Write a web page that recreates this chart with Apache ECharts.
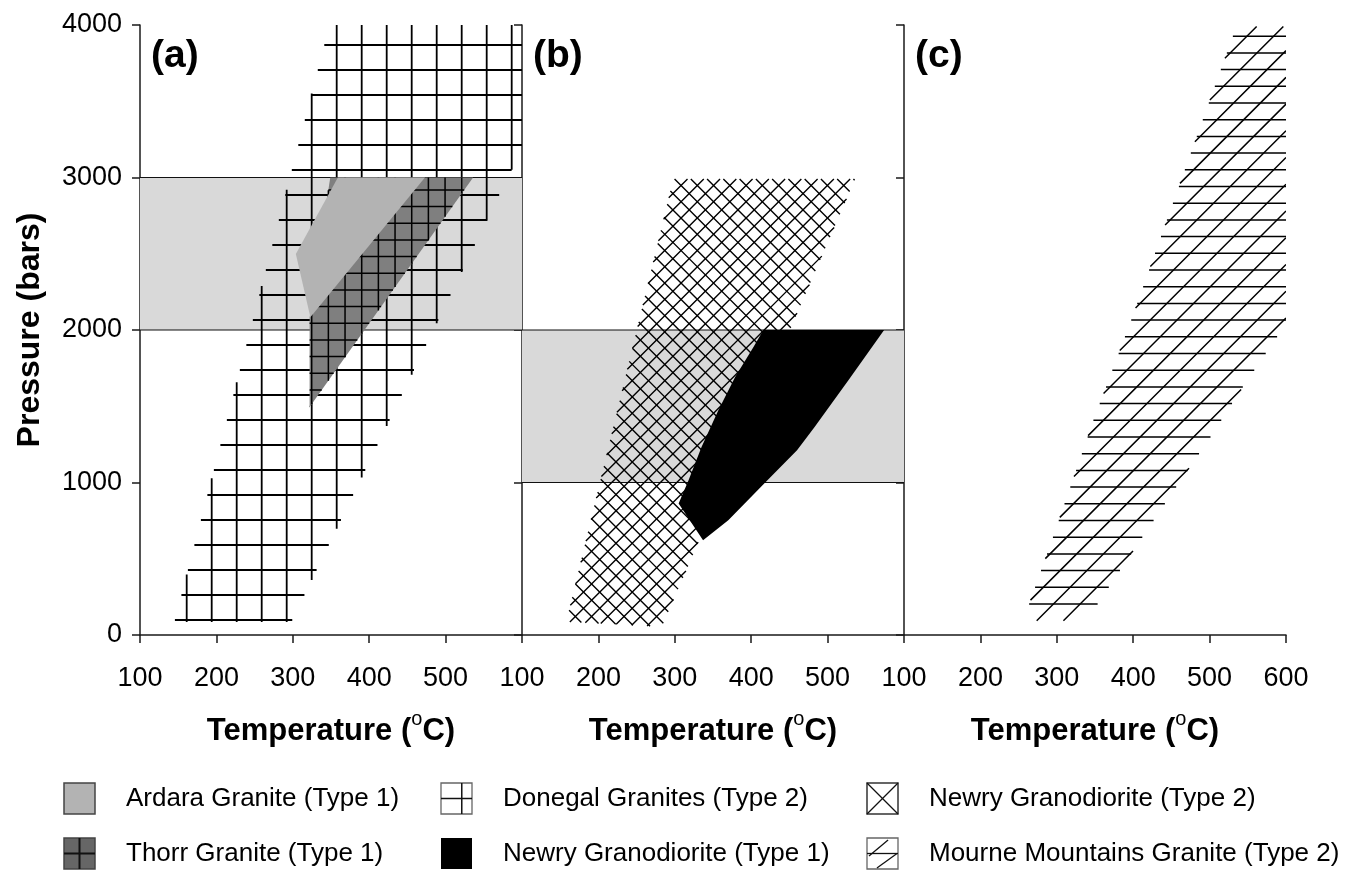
<!DOCTYPE html>
<html>
<head>
<meta charset="utf-8">
<script src="https://cdn.jsdelivr.net/npm/echarts@6/dist/echarts.min.js"></script>
<style>
html,body{margin:0;padding:0;background:#fff;}
#chart{width:1354px;height:870px;}
</style>
</head>
<body>
<div id="chart"></div>
<script>
// ---------------- DATA ----------------
const X_MIN = 100, X_MAX = 600, X_STEP = 100;
const Y_MIN = 0, Y_MAX = 4000, Y_STEP = 1000;
const panelNames = ['(a)', '(b)', '(c)'];
const xTitle = '{n|Temperature (}{s|o}{n|C)}';
const yTitle = 'Pressure (bars)';

// Panel (a)
const bandA_P = [2000, 3000];
const donegalT = [348, 600, 600, 571, 298, 145];
const donegalP = [4000, 4000, 3186, 2894, 85, 85];
const thorrT = [322, 322, 349, 536];
const thorrP = [1495, 2080, 3000, 3000];
const ardaraT = [359, 473, 323, 304];
const ardaraP = [3000, 3000, 2084, 2499];

// Panel (b)
const bandB_P = [1000, 2000];
const newry2T = [298, 536, 283, 158];
const newry2P = [2990, 2990, 54, 87];
const newry1T = [416, 574, 527, 483, 460, 419, 370, 337, 305, 318, 335, 357, 379, 403];
const newry1P = [2000, 2000, 1669, 1364, 1211, 1004, 753, 622, 862, 1015, 1233, 1473, 1691, 1888];

// Panel (c)
const mourneT = [535, 600, 600, 588, 544, 501, 456, 412, 353, 334, 256, 295, 348, 397, 444, 491];
const mourneP = [3990, 3990, 2059, 1952, 1631, 1297, 968, 642, 200, 94, 94, 642, 1409, 2059, 2720, 3378];

const legendNames = [
  'Ardara Granite (Type 1)', 'Thorr Granite (Type 1)',
  'Donegal Granites (Type 2)', 'Newry Granodiorite (Type 1)',
  'Newry Granodiorite (Type 2)', 'Mourne Mountains Granite (Type 2)'
];

// ---------------- STYLE / LAYOUT ----------------
const FONT = "'Liberation Sans', Arial, Helvetica, sans-serif";
const GRID_LEFT = [140, 522, 904];
const GRID_W = 382, GRID_TOP = 25, GRID_H = 610;
const AXIS_COLOR = '#1a1a1a';

function hatchPath(pts, fam, origin) {
  const a = fam.angle * Math.PI / 180;
  const dx = Math.cos(a), dy = -Math.sin(a);
  const nx = Math.sin(a), ny = Math.cos(a);
  const proj = p => p[0] * nx + p[1] * ny;
  const along = p => p[0] * dx + p[1] * dy;
  const cs = pts.map(proj);
  const cmin = Math.min.apply(null, cs), cmax = Math.max.apply(null, cs);
  const c0 = proj(origin) + fam.offset;
  const k0 = Math.ceil((cmin - c0) / fam.spacing), k1 = Math.floor((cmax - c0) / fam.spacing);
  let d = '';
  for (let k = k0; k <= k1; k++) {
    const c = c0 + k * fam.spacing;
    const hits = [];
    for (let i = 0; i < pts.length; i++) {
      const j = (i + 1) % pts.length;
      const ci = cs[i], cj = cs[j];
      if ((ci <= c && c < cj) || (cj <= c && c < ci)) {
        const t = (c - ci) / (cj - ci);
        hits.push([pts[i][0] + t * (pts[j][0] - pts[i][0]), pts[i][1] + t * (pts[j][1] - pts[i][1])]);
      }
    }
    hits.sort((u, v) => along(u) - along(v));
    for (let m = 0; m + 1 < hits.length; m += 2) {
      d += 'M' + hits[m][0].toFixed(2) + ' ' + hits[m][1].toFixed(2) +
           'L' + hits[m + 1][0].toFixed(2) + ' ' + hits[m + 1][1].toFixed(2);
    }
  }
  return d;
}

function regionSeries(name, grid, T, P, z, style) {
  return {
    name: name, type: 'custom', xAxisIndex: grid, yAxisIndex: grid,
    z: z, clip: true, silent: true,
    data: T.map((t, i) => [t, P[i]]),
    encode: { x: 0, y: 1 },
    renderItem: function (params, api) {
      if (params.dataIndex !== 0) return null;
      const pts = T.map((t, i) => api.coord([t, P[i]]));
      const origin = api.coord([X_MIN, Y_MIN]);
      const children = [];
      if (style.fill) {
        children.push({ type: 'polygon', shape: { points: pts }, style: { fill: style.fill, stroke: null } });
      }
      (style.hatch || []).forEach(h => {
        const d = hatchPath(pts, h, origin);
        if (d) children.push({ type: 'path', shape: { pathData: d }, style: { fill: null, stroke: '#000', lineWidth: h.width } });
      });
      return { type: 'group', children: children };
    }
  };
}

function bandSeries(grid, PB) {
  return {
    type: 'custom', xAxisIndex: grid, yAxisIndex: grid, z: 1, silent: true, clip: true,
    data: [[X_MIN, PB[0]], [X_MAX, PB[1]]],
    encode: { x: 0, y: 1 },
    renderItem: function (params, api) {
      if (params.dataIndex !== 0) return null;
      const p0 = api.coord([X_MIN, PB[1]]);
      const p1 = api.coord([X_MAX, PB[0]]);
      return {
        type: 'group', children: [
          { type: 'rect', shape: { x: p0[0], y: p0[1], width: p1[0] - p0[0], height: p1[1] - p0[1] }, style: { fill: '#d9d9d9' } },
          { type: 'line', shape: { x1: p0[0], y1: p0[1], x2: p1[0], y2: p0[1] }, style: { stroke: '#111', lineWidth: 1.2 } },
          { type: 'line', shape: { x1: p0[0], y1: p1[1], x2: p1[0], y2: p1[1] }, style: { stroke: '#111', lineWidth: 1.2 } }
        ]
      };
    }
  };
}

const grids = GRID_LEFT.map(l => ({ left: l, top: GRID_TOP, width: GRID_W, height: GRID_H }));

const xAxes = [0, 1, 2].map(i => ({
  type: 'value', gridIndex: i, min: X_MIN, max: X_MAX, interval: X_STEP,
  axisLine: { show: true, onZero: false, lineStyle: { color: AXIS_COLOR, width: 1.5 } },
  axisTick: { show: true, inside: false, length: 8, lineStyle: { color: AXIS_COLOR, width: 1.5 } },
  axisLabel: { show: true, fontSize: 27, color: '#000', fontFamily: FONT, margin: 30,
               showMaxLabel: i === 2, showMinLabel: true, formatter: v => String(v) },
  splitLine: { show: false },
  name: xTitle, nameLocation: 'middle', nameGap: 74,
  nameTextStyle: {
    rich: {
      n: { fontSize: 31, fontWeight: 'bold', color: '#000', fontFamily: FONT, lineHeight: 38, verticalAlign: 'bottom' },
      s: { fontSize: 20, fontWeight: 'normal', color: '#000', fontFamily: FONT, lineHeight: 20, verticalAlign: 'top' }
    }
  }
}));

const yAxes = [0, 1, 2].map(i => ({
  type: 'value', gridIndex: i, min: Y_MIN, max: Y_MAX, interval: Y_STEP,
  axisLine: { show: true, onZero: false, lineStyle: { color: AXIS_COLOR, width: 1.5 } },
  axisTick: { show: true, inside: false, length: 8, lineStyle: { color: AXIS_COLOR, width: 1.5 } },
  axisLabel: { show: i === 0, fontSize: 27, color: '#000', fontFamily: FONT, margin: 18, formatter: v => String(v) },
  splitLine: { show: false },
  name: i === 0 ? yTitle : '', nameLocation: 'middle', nameGap: 94,
  nameTextStyle: { fontSize: 32, fontWeight: 'bold', color: '#000', fontFamily: FONT }
}));

const series = [
  bandSeries(0, bandA_P),
  regionSeries(legendNames[2], 0, donegalT, donegalP, 2, {
    hatch: [{ angle: 90, spacing: 25, offset: 21.7, width: 1.8 }, { angle: 0, spacing: 25, offset: 10, width: 1.8 }]
  }),
  regionSeries(legendNames[1], 0, thorrT, thorrP, 3, {
    fill: '#7f7f7f',
    hatch: [{ angle: 90, spacing: 16.67, offset: 5, width: 1.5 }, { angle: 0, spacing: 16.67, offset: 5, width: 1.5 }]
  }),
  regionSeries(legendNames[0], 0, ardaraT, ardaraP, 4, { fill: '#b3b3b3' }),
  bandSeries(1, bandB_P),
  regionSeries(legendNames[4], 1, newry2T, newry2P, 2, {
    hatch: [{ angle: 45, spacing: 11.5, offset: 1.6, width: 1.4 }, { angle: 135, spacing: 11.5, offset: 4.8, width: 1.4 }]
  }),
  regionSeries(legendNames[3], 1, newry1T, newry1P, 3, { fill: '#000000' }),
  regionSeries(legendNames[5], 2, mourneT, mourneP, 2, {
    hatch: [{ angle: 0, spacing: 16.7, offset: 2.4, width: 1.5 }, { angle: 45, spacing: 18.9, offset: 8.1, width: 1.5 }]
  })
];

// ---------------- GRAPHIC: panel labels + legend ----------------
const graphic = [];
panelNames.forEach((t, i) => {
  graphic.push({
    type: 'text', x: GRID_LEFT[i] + 11, y: 56, z: 10,
    style: { text: t, fontSize: 39, fontWeight: 'bold', fontFamily: FONT, fill: '#000', align: 'left', verticalAlign: 'middle' }
  });
});

const SW = 31;
const LEG_COL_X = [64, 441, 867];
const LEG_ROW_Y = [783, 838];
const legendSlots = [[0, 0], [0, 1], [1, 0], [1, 1], [2, 0], [2, 1]];
function swatch(idx, x, y) {
  const els = [];
  const border = { stroke: '#444', lineWidth: 1.5 };
  const ln = (x1, y1, x2, y2, w) => ({ type: 'line', shape: { x1: x1, y1: y1, x2: x2, y2: y2 }, style: { stroke: '#111', lineWidth: w || 1.5 } });
  if (idx === 0) els.push({ type: 'rect', shape: { x: x, y: y, width: SW, height: SW }, style: Object.assign({ fill: '#b3b3b3' }, border) });
  if (idx === 1) {
    els.push({ type: 'rect', shape: { x: x, y: y, width: SW, height: SW }, style: Object.assign({ fill: '#666666' }, border) });
    els.push(ln(x + SW / 2, y, x + SW / 2, y + SW, 2));
    els.push(ln(x, y + SW / 2, x + SW, y + SW / 2, 2));
  }
  if (idx === 2) {
    els.push({ type: 'rect', shape: { x: x, y: y, width: SW, height: SW }, style: { fill: '#fff', stroke: '#666', lineWidth: 1.3 } });
    els.push(ln(x, y + SW / 2, x + SW, y + SW / 2));
    els.push(ln(x + SW * 0.67, y, x + SW * 0.67, y + SW));
  }
  if (idx === 3) els.push({ type: 'rect', shape: { x: x, y: y, width: SW, height: SW }, style: { fill: '#000' } });
  if (idx === 4) {
    els.push({ type: 'rect', shape: { x: x, y: y, width: SW, height: SW }, style: { fill: '#fff', stroke: '#333', lineWidth: 1.5 } });
    els.push(ln(x, y, x + SW, y + SW, 1.3));
    els.push(ln(x + SW, y, x, y + SW, 1.3));
  }
  if (idx === 5) {
    els.push({ type: 'rect', shape: { x: x, y: y, width: SW, height: SW }, style: { fill: '#fff', stroke: '#666', lineWidth: 1.3 } });
    els.push(ln(x, y + SW / 2, x + SW, y + SW / 2, 1.3));
    els.push(ln(x + 2, y + SW * 0.58, x + SW * 0.68, y + 2, 1.3));
    els.push(ln(x + SW * 0.32, y + SW - 1, x + SW - 1, y + SW * 0.5, 1.3));
  }
  return els;
}
legendNames.forEach((name, i) => {
  const x = LEG_COL_X[legendSlots[i][0]], y = LEG_ROW_Y[legendSlots[i][1]];
  swatch(i, x, y).forEach(e => graphic.push(e));
  graphic.push({
    type: 'text', x: x + 62, y: y + SW / 2,
    style: { text: name, fontSize: 26, fontFamily: FONT, fill: '#000', align: 'left', verticalAlign: 'middle' }
  });
});

const chart = echarts.init(document.getElementById('chart'), null, { renderer: 'canvas' });
chart.setOption({
  backgroundColor: '#fff',
  animation: false,
  grid: grids,
  xAxis: xAxes,
  yAxis: yAxes,
  series: series,
  graphic: graphic
});
</script>
</body>
</html>
